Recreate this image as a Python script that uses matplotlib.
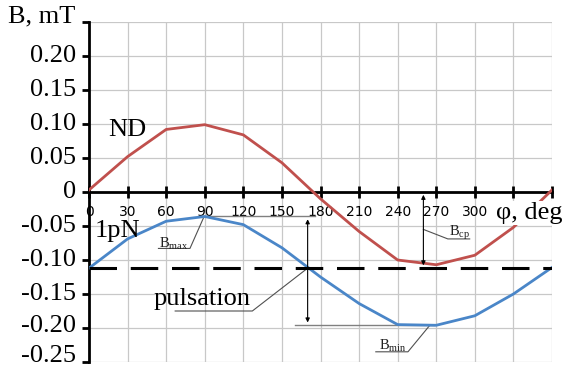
import matplotlib
matplotlib.use("Agg")
import matplotlib.pyplot as plt

# angle, deg
phi = [0, 30, 60, 90, 120, 150, 180, 210, 240, 270, 300, 330, 360]
# ND curve, mT
b_nd = [0.003, 0.052, 0.092, 0.099, 0.084, 0.043, -0.010, -0.058, -0.100, -0.107, -0.093, -0.052, 0.003]
# 1pN curve, mT
b_1pn = [-0.112, -0.069, -0.043, -0.036, -0.048, -0.082, -0.125, -0.164, -0.195, -0.196, -0.182, -0.150, -0.111]

b_mean = -0.112
b_max = -0.036
b_min = -0.196

xticks = [0, 30, 60, 90, 120, 150, 180, 210, 240, 270, 300, 330, 360]
xlabels = ["0", "30", "60", "90", "120", "150", "180", "210", "240", "270", "300", "", ""]
yticks = [0.25, 0.20, 0.15, 0.10, 0.05, 0, -0.05, -0.10, -0.15, -0.20, -0.25]
ylabels = ["", "0.20", "0.15", "0.10", "0.05", "0", "-0.05", "-0.10", "-0.15", "-0.20", "-0.25"]

SERIF = "Liberation Serif"
RED = "#c0504d"
BLUE = "#4a86c8"
LEAD = "#505050"
FS = 19

fig = plt.figure(figsize=(5.63, 3.67), dpi=100)
ax = fig.add_axes([89/563, 1-362/367, 463/563, 340/367])

ax.set_xlim(0, 360)
ax.set_ylim(-0.25, 0.25)
ax.set_xticks(xticks)
ax.set_xticklabels(xlabels, fontsize=7.5, color="#404040")
ax.set_yticks(yticks)
ax.set_yticklabels([])
# y labels drawn by hand: the lower ones sit a bit above their ticks
for y, lab in zip(yticks, ylabels):
    dy = 2 + max(0.0, -0.15 - y) * 60
    ax.annotate(lab, xy=(0, y), xycoords=ax.get_yaxis_transform(),
                xytext=(-13, dy), textcoords="offset pixels",
                ha="right", va="center_baseline", fontsize=FS, family=SERIF,
                annotation_clip=False)
ax.grid(True, color="#c8c8c8", lw=0.9)
ax.set_axisbelow(True)

for s in ["top", "right"]:
    ax.spines[s].set_visible(False)
ax.spines["left"].set_linewidth(2)
ax.spines["bottom"].set_position(("data", 0))
ax.spines["bottom"].set_linewidth(2)
ax.tick_params(axis="x", direction="inout", length=8, width=2, pad=5)
ax.tick_params(axis="y", direction="out", length=5, width=2)

ax.plot(phi, b_nd, color=RED, lw=2, zorder=3)
ax.plot(phi, b_1pn, color=BLUE, lw=2, zorder=3)
ax.axhline(b_mean, color="black", lw=2.2, dashes=(9, 4.5), zorder=4)

# Bmax / Bmin levels and arrows
ax.plot([90, 176], [b_max, b_max], color="#808080", lw=1)
ax.plot([160, 268], [b_min, b_min], color="#808080", lw=1)
ax.annotate("", xy=(170, b_max), xytext=(170, b_min),
            arrowprops=dict(arrowstyle="<|-|>", color="black", lw=0.8, mutation_scale=6))
ax.annotate("", xy=(260, 0), xytext=(260, b_mean),
            arrowprops=dict(arrowstyle="<|-|>", color="black", lw=0.8, mutation_scale=6))

# label leaders
ax.plot([54, 78.5, 89.5], [-0.083, -0.083, b_max], color=LEAD, lw=0.8)
ax.text(66, -0.076, r"B$_{\mathregular{max}}$", fontsize=10.5, family=SERIF, ha="center", va="center", color="#202020")
ax.plot([223, 248, 265], [-0.235, -0.235, b_min], color=LEAD, lw=0.8)
ax.text(236, -0.226, r"B$_{\mathregular{min}}$", fontsize=10.5, family=SERIF, ha="center", va="center", color="#202020")
ax.plot([260, 279, 296], [-0.055, -0.069, -0.069], color=LEAD, lw=0.8)
ax.text(288, -0.060, r"B$_{\mathregular{cp}}$", fontsize=10.5, family=SERIF, ha="center", va="center", color="#202020")
ax.plot([67, 127, 170], [-0.175, -0.175, b_mean], color=LEAD, lw=0.8)
ax.text(88, -0.158, "pulsation", fontsize=FS, family=SERIF, ha="center", va="center")

ax.text(30, 0.091, "ND", fontsize=FS, family=SERIF, ha="center", va="center")
ax.text(22, -0.058, "1pN", fontsize=FS, family=SERIF, ha="center", va="center")
fig.text(1.0, 1-213/367, "φ, deg", fontsize=FS, family=SERIF, ha="right", va="center",
         bbox=dict(facecolor="white", edgecolor="none", pad=1), zorder=6)
fig.text(8/563, 1-16/367, "B, mT", fontsize=FS, family=SERIF, ha="left", va="center")

fig.savefig("out.png", dpi=100)
